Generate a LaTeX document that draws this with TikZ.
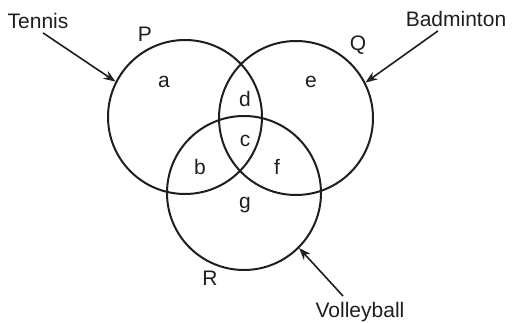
\documentclass[tikz,border=0pt]{standalone}
\usepackage{fontspec}
\setmainfont{Liberation Sans}
\usepackage{xcolor}
\usetikzlibrary{arrows.meta}
\definecolor{inkgray}{RGB}{30,30,30}
\definecolor{tipgray}{RGB}{110,110,110}

\begin{document}
\begin{tikzpicture}[
  x=1pt,y=-1pt,
  set/.style={draw=inkgray,circle,line width=2pt,minimum size=154pt,inner sep=0pt},
  lbl/.style={font=\fontsize{21}{23}\selectfont,text=inkgray,inner sep=1pt},
  arr/.style={-{Stealth[length=12pt,width=9pt,fill=tipgray]},line width=1.6pt,draw=inkgray}
]
\useasboundingbox (0,0) rectangle (515,323);
% the three sets
\node[set] (P) at (185,117) {};
\node[set] (Q) at (296,118) {};
\node[set] (R) at (244,193) {};
% set names
\node[lbl] (pname) at (145,34) {P};
\node[lbl] (qname) at (358,45) {Q};
\node[lbl] (rname) at (210,278) {R};
% regions
\node[lbl] (ra) at (164,82) {a};
\node[lbl] (rd) at (245,99) {d};
\node[lbl] (rc) at (245,141) {c};
\node[lbl] (rb) at (200,167) {b};
\node[lbl] (rf) at (277,167) {f};
\node[lbl] (rg) at (245,205) {g};
\node[lbl] (re) at (311,82) {e};
% sports
\node[lbl] (tennis) at (38,21) {Tennis};
\node[lbl] (badminton) at (456,19) {Badminton};
\node[lbl] (volleyball) at (360,312) {Volleyball};
\draw[arr] ([xshift=5pt,yshift=-3pt]tennis.south) -- (P.153);
\draw[arr] ([xshift=-18pt,yshift=-3pt]badminton.south) -- (Q.27);
\draw[arr] ([xshift=-17pt,yshift=5pt]volleyball.north) -- (R.-45);
\end{tikzpicture}
\end{document}
